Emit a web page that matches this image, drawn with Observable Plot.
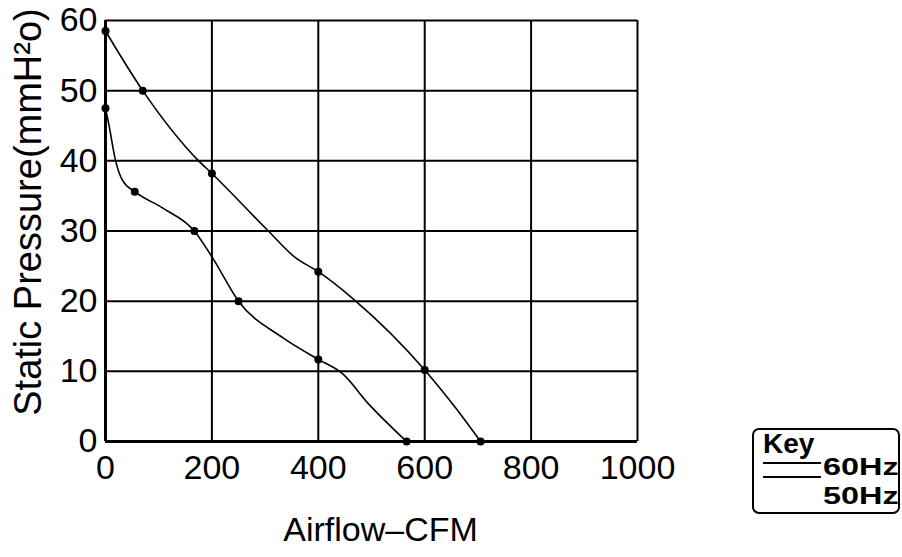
<!DOCTYPE html>
<html>
<head>
<meta charset="utf-8">
<script src="https://cdn.jsdelivr.net/npm/d3@7"></script>
<script src="https://cdn.jsdelivr.net/npm/@observablehq/plot@0.6"></script>
<style>
  body { margin: 0; background: #fff; font-family: "Liberation Sans", Arial, sans-serif; }
  #wrap { position: relative; width: 902px; height: 557px; overflow: hidden; }
  #legend { position: absolute; left: 752px; top: 428px; width: 144px; height: 82px;
            border: 2px solid #000; border-radius: 7px; overflow: hidden; background: #fff; }
  #legend .key { position: absolute; left: 9px; top: 0px; font-weight: bold; font-size: 28px; line-height: 28px; }
  #legend .ln { position: absolute; left: 9px; width: 58px; height: 0; border-top: 2px solid #000; }
  #legend .lab { position: absolute; left: 69px; font-weight: bold; font-size: 24px; line-height: 24px;
                 transform: scaleX(1.35); transform-origin: left center; white-space: nowrap; }
</style>
</head>
<body>
<div id="wrap">
  <div id="chart"></div>
  <div id="legend">
    <div class="key">Key</div>
    <div class="ln" style="top:32px"></div>
    <div class="ln" style="top:46px"></div>
    <div class="lab" style="top:25px">60Hz</div>
    <div class="lab" style="top:54px">50Hz</div>
  </div>
</div>
<script>
// Tick values
const xTicks = [0, 200, 400, 600, 800, 1000];
const yTicks = [0, 10, 20, 30, 40, 50, 60];

// 60Hz curve (airflow CFM, static pressure mmH2O)
const airflow60 = [0, 70, 175, 200, 306, 357, 400, 466, 600, 658, 705];
const pressure60 = [58.5, 50, 40, 38.2, 30, 26.2, 24.2, 20.3, 10.2, 4.8, 0];
// 60Hz marked points
const dotAir60 = [0, 70, 200, 400, 600, 705];
const dotPres60 = [58.5, 50, 38.2, 24.2, 10.2, 0];

// 50Hz curve
const airflow50 = [0, 6, 19, 32, 55, 107, 167, 201, 250, 333, 400, 445, 494, 566];
const pressure50 = [47.5, 45.3, 40, 37.2, 35.6, 33.3, 30, 26.2, 20, 14.8, 11.7, 9.7, 5.4, 0];
// 50Hz marked points
const dotAir50 = [0, 55, 167, 250, 400, 566];
const dotPres50 = [47.5, 35.6, 30, 20, 11.7, 0];

const line60 = airflow60.map((x, i) => ({x, y: pressure60[i]}));
const line50 = airflow50.map((x, i) => ({x, y: pressure50[i]}));
const dots = [
  ...dotAir60.map((x, i) => ({x, y: dotPres60[i]})),
  ...dotAir50.map((x, i) => ({x, y: dotPres50[i]}))
];

const chart = Plot.plot({
  width: 902,
  height: 557,
  marginLeft: 105,
  marginRight: 265,
  marginTop: 20,
  marginBottom: 116,
  style: {fontFamily: "'Liberation Sans', Arial, sans-serif", color: "#000", background: "#fff"},
  x: {domain: [0, 1000]},
  y: {domain: [0, 60]},
  marks: [
    Plot.gridX(xTicks, {stroke: "#000", strokeOpacity: 1, strokeWidth: 2}),
    Plot.gridY(yTicks, {stroke: "#000", strokeOpacity: 1, strokeWidth: 2}),
    Plot.ruleX([0], {stroke: "#000", strokeWidth: 3}),
    Plot.ruleY([0], {stroke: "#000", strokeWidth: 3}),
    Plot.axisX(xTicks, {tickSize: 0, tickPadding: 13, fontSize: 34, label: null, tickFormat: d => String(d)}),
    Plot.axisY(yTicks, {tickSize: 0, tickPadding: 8, fontSize: 34, label: null, tickFormat: d => String(d)}),
    Plot.line(line60, {x: "x", y: "y", stroke: "#000", strokeWidth: 1.6, curve: "monotone-x"}),
    Plot.line(line50, {x: "x", y: "y", stroke: "#000", strokeWidth: 1.6, curve: "monotone-x"}),
    Plot.dot(dots, {x: "x", y: "y", r: 4, fill: "#000", stroke: "none"}),
    Plot.text(["Static Pressure(mmH²o)"], {frameAnchor: "left", textAnchor: "middle", dx: -77, dy: -19, rotate: -90, fontSize: 38, fill: "#000"}),
    Plot.text(["Airflow–CFM"], {frameAnchor: "bottom", textAnchor: "middle", dx: 9, dy: 99, fontSize: 34, fill: "#000"})
  ]
});
document.getElementById("chart").appendChild(chart);
</script>
</body>
</html>
